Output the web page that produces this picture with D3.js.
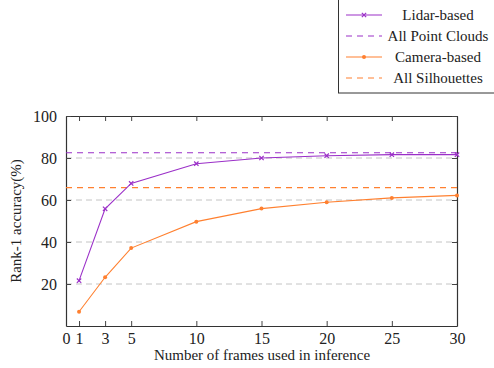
<!DOCTYPE html>
<html>
<head>
<meta charset="utf-8">
<script src="https://cdn.jsdelivr.net/npm/d3@7"></script>
</head>
<body style="margin:0">
<script>
var frames = [1, 3, 5, 10, 15, 20, 25, 30];
var lidar = [21.6, 55.8, 67.9, 77.3, 80.0, 81.1, 81.6, 81.6];
var camera = [6.8, 23.2, 37.1, 49.7, 55.9, 58.9, 61.0, 62.2];
var allPointClouds = 82.5;
var allSilhouettes = 65.9;
var xTicks = [0, 1, 3, 5, 10, 15, 20, 25, 30];
var yTicks = [20, 40, 60, 80, 100];
var legendNames = ["Lidar-based", "All Point Clouds", "Camera-based", "All Silhouettes"];

var width = 494, height = 368;
var purple = "#9b30c8", orange = "#ff8030";
var plotLeft = 66, plotRight = 457, plotTop = 116, plotBottom = 326;
var serif = "Times New Roman";

var svg = d3.select("body").append("svg")
	.attr("width", width)
	.attr("height", height)
	.attr("font-family", serif);

var x = d3.scaleLinear().domain([0, 30]).range([plotLeft, plotRight]);
var y = d3.scaleLinear().domain([0, 100]).range([plotBottom, plotTop]);

// grid
svg.append("g").selectAll("line")
	.data(yTicks.filter(function(d) { return d < 100; }))
	.enter().append("line")
	.attr("x1", plotLeft).attr("x2", plotRight)
	.attr("y1", function(d) { return y(d); })
	.attr("y2", function(d) { return y(d); })
	.style("stroke", "#c4c4c4")
	.style("stroke-width", 1)
	.style("stroke-dasharray", "6,4");

// axes
var xb = svg.append("g").attr("transform", "translate(0," + plotBottom + ")")
	.call(d3.axisBottom(x).tickValues(xTicks).tickSizeInner(-5).tickSizeOuter(0).tickPadding(7));
var xt = svg.append("g").attr("transform", "translate(0," + plotTop + ")")
	.call(d3.axisTop(x).tickValues(xTicks).tickSizeInner(-5).tickSizeOuter(0).tickFormat(""));
var yl = svg.append("g").attr("transform", "translate(" + plotLeft + ",0)")
	.call(d3.axisLeft(y).tickValues(yTicks).tickSizeInner(-5).tickSizeOuter(0).tickPadding(9));
var yr = svg.append("g").attr("transform", "translate(" + plotRight + ",0)")
	.call(d3.axisRight(y).tickValues(yTicks).tickSizeInner(-5).tickSizeOuter(0).tickFormat(""));

[xb, xt, yl, yr].forEach(function(g) {
	g.attr("font-family", serif).attr("font-size", 16);
	g.select(".domain").style("stroke", "#333").style("stroke-width", 1.2);
	g.selectAll(".tick line").style("stroke", "#444");
	g.selectAll("text")
		.attr("font-family", serif)
		.style("font-family", serif)
		.style("font-size", "16px")
		.style("fill", "#222");
});

// reference lines
svg.append("line")
	.attr("x1", plotLeft).attr("x2", plotRight)
	.attr("y1", y(allPointClouds)).attr("y2", y(allPointClouds))
	.style("stroke", purple).style("stroke-width", 1.2).style("stroke-dasharray", "6,5");
svg.append("line")
	.attr("x1", plotLeft).attr("x2", plotRight)
	.attr("y1", y(allSilhouettes)).attr("y2", y(allSilhouettes))
	.style("stroke", orange).style("stroke-width", 1.2).style("stroke-dasharray", "6,5");

var line = d3.line()
	.x(function(d) { return x(d[0]); })
	.y(function(d) { return y(d[1]); });

var lidarPts = d3.zip(frames, lidar);
var camPts = d3.zip(frames, camera);

svg.append("path").datum(lidarPts).attr("d", line)
	.style("fill", "none").style("stroke", purple).style("stroke-width", 1.1);
svg.append("path").datum(camPts).attr("d", line)
	.style("fill", "none").style("stroke", orange).style("stroke-width", 1.1);

var cross = d3.symbol().type(d3.symbolTimes).size(14);
svg.append("g").selectAll("path")
	.data(lidarPts).enter().append("path")
	.attr("d", cross)
	.attr("transform", function(d) { return "translate(" + x(d[0]) + "," + y(d[1]) + ")"; })
	.style("fill", "none").style("stroke", purple).style("stroke-width", 1.2);
svg.append("g").selectAll("circle")
	.data(camPts).enter().append("circle")
	.attr("cx", function(d) { return x(d[0]); })
	.attr("cy", function(d) { return y(d[1]); })
	.attr("r", 2)
	.style("fill", orange);

// axis labels
svg.append("text")
	.attr("x", 262).attr("y", 360)
	.attr("text-anchor", "middle")
	.attr("font-family", serif)
	.style("font-family", serif)
	.style("font-size", "15px")
	.style("fill", "#222")
	.text("Number of frames used in inference");
svg.append("text")
	.attr("transform", "translate(21," + ((plotTop + plotBottom) / 2) + ") rotate(-90)")
	.attr("text-anchor", "middle")
	.attr("font-family", serif)
	.style("font-family", serif)
	.style("font-size", "15px")
	.style("fill", "#222")
	.text("Rank-1 accuracy(%)");

// legend
var legend = svg.append("g");
legend.append("rect")
	.attr("x", 338.5).attr("y", -1).attr("width", 160).attr("height", 94)
	.style("fill", "#fff").style("stroke", "#333").style("stroke-width", 1);
var items = legend.selectAll("g.item")
	.data(legendNames).enter().append("g")
	.attr("transform", function(d, i) { return "translate(0," + (15 + i * 21) + ")"; });
items.append("line")
	.attr("x1", 346).attr("x2", 382).attr("y1", 0).attr("y2", 0)
	.style("stroke", function(d, i) { return i < 2 ? purple : orange; })
	.style("stroke-width", 1.2)
	.style("stroke-dasharray", function(d, i) { return i % 2 ? "6,5" : null; });
items.filter(function(d, i) { return i == 0; }).append("path")
	.attr("d", cross).attr("transform", "translate(364,0)")
	.style("fill", "none").style("stroke", purple).style("stroke-width", 1.2);
items.filter(function(d, i) { return i == 2; }).append("circle")
	.attr("cx", 364).attr("cy", 0).attr("r", 2).style("fill", orange);
items.append("text")
	.attr("x", 438).attr("y", 5)
	.attr("text-anchor", "middle")
	.attr("font-family", serif)
	.style("font-family", serif)
	.style("font-size", "15px")
	.style("fill", "#222")
	.text(function(d) { return d; });
</script>
</body>
</html>
